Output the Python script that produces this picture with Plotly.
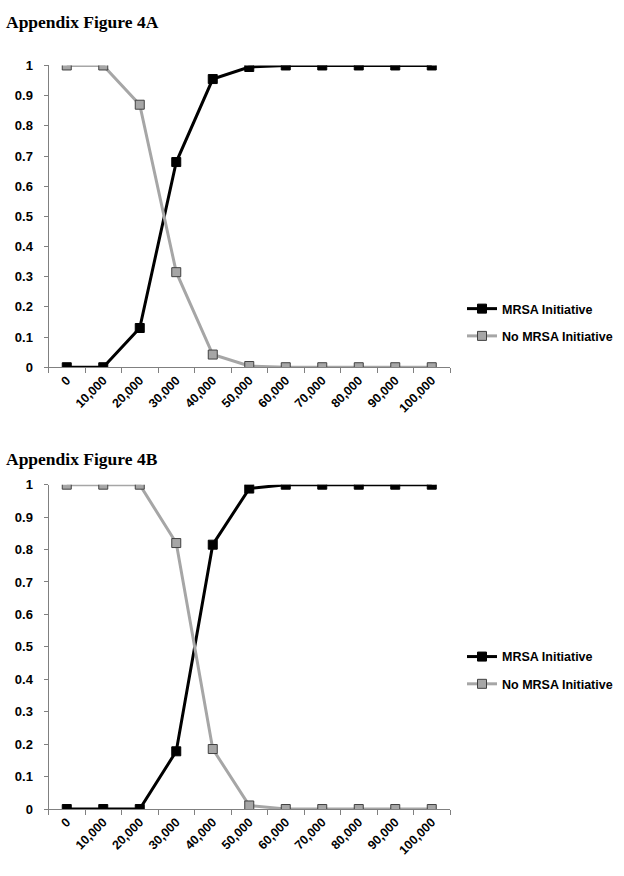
import plotly.graph_objects as go

categories = ["0", "10,000", "20,000", "30,000", "40,000", "50,000", "60,000",
              "70,000", "80,000", "90,000", "100,000"]
a_mrsa = [0, 0, 0.13, 0.68, 0.955, 0.995, 1, 1, 1, 1, 1]
a_no_mrsa = [1, 1, 0.87, 0.315, 0.042, 0.004, 0, 0, 0, 0, 0]
b_mrsa = [0, 0, 0, 0.178, 0.815, 0.988, 1, 1, 1, 1, 1]
b_no_mrsa = [1, 1, 1, 0.82, 0.185, 0.011, 0, 0, 0, 0, 0]
y_ticks = [0, 0.1, 0.2, 0.3, 0.4, 0.5, 0.6, 0.7, 0.8, 0.9, 1]
y_tick_text = ["0", "0.1", "0.2", "0.3", "0.4", "0.5", "0.6", "0.7", "0.8", "0.9", "1"]
series_names = ["MRSA Initiative", "No MRSA Initiative"]
titles = ["Appendix Figure 4A", "Appendix Figure 4B"]

BLACK = "#000000"
GREY = "#a6a6a6"
font = "Liberation Sans, Arial, sans-serif"

fig = go.Figure()

def add(y, name, color, border, xa, ya, legend, group):
    fig.add_trace(go.Scatter(
        x=categories, y=y, name="<b>" + name + "</b>", mode="lines+markers",
        line=dict(color=color, width=3),
        marker=dict(symbol="square", size=9, color=color,
                    line=dict(color=border, width=1)),
        xaxis=xa, yaxis=ya, legend=legend, legendgroup=group,
    ))

add(a_mrsa, series_names[0], BLACK, BLACK, "x", "y", "legend", "a1")
add(a_no_mrsa, series_names[1], GREY, "#404040", "x", "y", "legend", "a2")
add(b_mrsa, series_names[0], BLACK, BLACK, "x2", "y2", "legend2", "b1")
add(b_no_mrsa, series_names[1], GREY, "#404040", "x2", "y2", "legend2", "b2")

W, H = 624, 876
x_dom = [48.5 / W, 450 / W]
ya_dom = [(H - 366.5) / H, (H - 59.5) / H]
yb_dom = [(H - 816) / H, (H - 486) / H]

bold_cats = ["<b>" + c + "</b>" for c in categories]
bold_y = ["<b>" + t + "</b>" for t in y_tick_text]

xcommon = dict(type="category", tickson="boundaries", ticks="outside", ticklen=5,
               tickcolor="#808080", showline=True, linecolor="#808080", linewidth=1,
               showgrid=False, zeroline=False, tickangle=-45,
               tickvals=categories, ticktext=bold_cats,
               tickfont=dict(family=font, size=12.5, color="#000000"),
               range=[-0.5, 10.5], domain=x_dom)
ycommon = dict(range=[0, 1], tickvals=y_ticks, ticktext=bold_y, ticks="outside",
               ticklen=4, tickcolor="#808080", showline=True, linecolor="#808080",
               linewidth=1, showgrid=False, zeroline=False, ticklabelstandoff=8,
               tickfont=dict(family=font, size=13, color="#000000"))

legcommon = dict(font=dict(family=font, size=12.5, color="#000000"),
                 bgcolor="rgba(0,0,0,0)", xanchor="left", yanchor="middle",
                 tracegroupgap=8, itemwidth=30)

fig.update_layout(
    width=W, height=H, margin=dict(l=0, r=0, t=0, b=0),
    paper_bgcolor="white", plot_bgcolor="white",
    xaxis=dict(**xcommon, anchor="y"),
    yaxis=dict(**ycommon, domain=ya_dom, anchor="x"),
    xaxis2=dict(**xcommon, anchor="y2"),
    yaxis2=dict(**ycommon, domain=yb_dom, anchor="x2"),
    legend=dict(**legcommon, x=462 / W, y=(H - 321) / H),
    legend2=dict(**legcommon, x=462 / W, y=(H - 675) / H),
    showlegend=True,
)

for t, ypix in zip(titles, [15, 460]):
    fig.add_annotation(text="<b>" + t + "</b>", x=4 / W, y=(H - ypix) / H,
                       xref="paper", yref="paper", xanchor="left", yanchor="middle",
                       showarrow=False,
                       font=dict(family="Liberation Serif, Times New Roman, serif",
                                 size=17.5, color="#000000"))

fig.write_html("out.html", config={"displayModeBar": False},
               post_script="document.body.style.margin='0';")
